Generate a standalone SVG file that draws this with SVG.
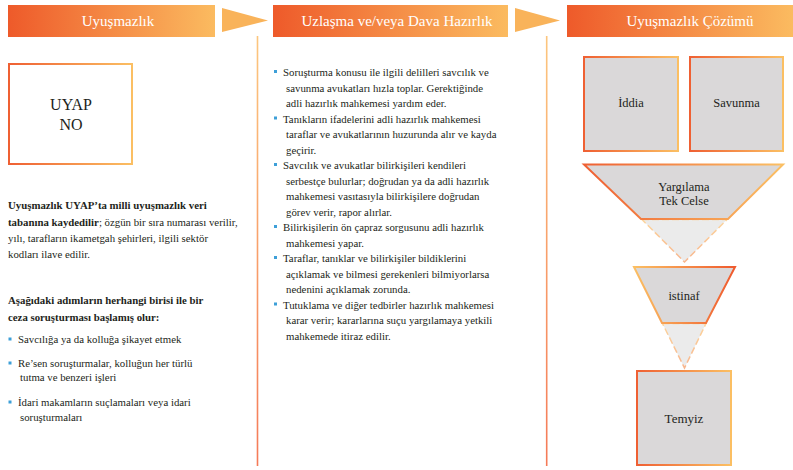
<svg xmlns="http://www.w3.org/2000/svg" width="793" height="470" viewBox="0 0 793 470">
<defs>
<linearGradient id="hdr" x1="0" y1="0" x2="1" y2="0"><stop offset="0" stop-color="#ee5a2a"/><stop offset="1" stop-color="#fbbb60"/></linearGradient>
<linearGradient id="brd" x1="0" y1="0" x2="1" y2="0"><stop offset="0" stop-color="#ef6033"/><stop offset="1" stop-color="#fbbf63"/></linearGradient>
<linearGradient id="brdr" x1="0" y1="0" x2="1" y2="0"><stop offset="0" stop-color="#fbbf63"/><stop offset="1" stop-color="#ef5a2e"/></linearGradient>
<linearGradient id="vl" x1="0" y1="36" x2="0" y2="466" gradientUnits="userSpaceOnUse"><stop offset="0" stop-color="#fcc67e"/><stop offset="1" stop-color="#f57a58"/></linearGradient>
<linearGradient id="conn" x1="0" y1="0" x2="0" y2="1"><stop offset="0" stop-color="#fcd49c"/><stop offset="1" stop-color="#f8b68e"/></linearGradient>
</defs>
<style>
.hd{font-family:"Liberation Serif","Times New Roman",serif;font-size:15px;fill:#ffffff;text-anchor:middle}
.lb{font-family:"Liberation Serif","Times New Roman",serif;fill:#231f20;text-anchor:middle}
.tx{font-family:"Liberation Serif","Times New Roman",serif;font-size:10.8px;fill:#231f20}
.b{font-weight:bold}
.bl{fill:#3d9fd8}
.box{fill:#ffffff;stroke:url(#brd);stroke-width:2}
.gbox{fill:#dad8d9;stroke:url(#brd);stroke-width:2}
.tri{fill:#ebebeb;stroke:url(#conn);stroke-width:1.5;stroke-dasharray:7 3}
.arr{fill:#f9b35a}
</style>

<g id="header1"><rect x="8" y="5" width="207" height="32" fill="url(#hdr)"/><text class="hd" x="118" y="26">Uyuşmazlık</text></g>
<g id="header2"><rect x="273" y="5" width="235" height="32" fill="url(#hdr)"/><text class="hd" x="397" y="26">Uzlaşma ve/veya Dava Hazırlık</text></g>
<g id="header3"><rect x="567" y="5" width="226" height="32" fill="url(#hdr)"/><text class="hd" x="690" y="26">Uyuşmazlık Çözümü</text></g>

<g id="connectors">
<polygon class="arr" points="222,8 268,20.5 222,32"/>
<polygon class="arr" points="515,8 560,20.5 515,32"/>
<line x1="257.5" y1="36" x2="257.5" y2="466" stroke="url(#vl)" stroke-width="1.6"/>
<line x1="546.7" y1="36" x2="546.7" y2="466" stroke="url(#vl)" stroke-width="1.6"/>
<polygon class="tri" points="642,219.5 727,219.5 684.5,262"/>
<polygon class="tri" points="662.5,323.5 706,323.5 684.5,368"/>
</g>

<g id="uyap">
<rect class="box" x="9" y="64" width="123" height="100"/>
<text class="lb" x="71" y="110" font-size="16">UYAP</text>
<text class="lb" x="71" y="130" font-size="16">NO</text>
</g>

<g id="left-text">
<text class="tx" x="8" y="209"><tspan class="b">Uyuşmazlık UYAP’ta milli uyuşmazlık veri</tspan></text>
<text class="tx" x="8" y="225.5"><tspan class="b">tabanına kaydedilir</tspan>; özgün bir sıra numarası verilir,</text>
<text class="tx" x="8" y="242">yılı, tarafların ikametgah şehirleri, ilgili sektör</text>
<text class="tx" x="8" y="258">kodları ilave edilir.</text>
<text class="tx b" x="8" y="304">Aşağıdaki adımların herhangi birisi ile bir</text>
<text class="tx b" x="8" y="320.5">ceza soruşturması başlamış olur:</text>
<rect class="bl" x="8.5" y="337.5" width="3" height="3"/>
<text class="tx" x="18" y="343">Savcılığa ya da kolluğa şikayet etmek</text>
<rect class="bl" x="8.5" y="361.5" width="3" height="3"/>
<text class="tx" x="18" y="367">Re’sen soruşturmalar, kolluğun her türlü</text>
<text class="tx" x="20" y="381">tutma ve benzeri işleri</text>
<rect class="bl" x="8.5" y="400.5" width="3" height="3"/>
<text class="tx" x="18" y="406">İdari makamların suçlamaları veya idari</text>
<text class="tx" x="20" y="421">soruşturmaları</text>
</g>

<g id="middle-text">
<rect class="bl" x="274" y="70" width="3" height="3"/>
<text class="tx" x="283" y="76">Soruşturma konusu ile ilgili delilleri savcılık ve</text>
<text class="tx" x="286" y="91.5">savunma avukatları hızla toplar. Gerektiğinde</text>
<text class="tx" x="286" y="107">adli hazırlık mahkemesi yardım eder.</text>
<rect class="bl" x="274" y="116.5" width="3" height="3"/>
<text class="tx" x="283" y="122.5">Tanıkların ifadelerini adli hazırlık mahkemesi</text>
<text class="tx" x="286" y="138">taraflar ve avukatlarının huzurunda alır ve kayda</text>
<text class="tx" x="286" y="153.5">geçirir.</text>
<rect class="bl" x="274" y="163" width="3" height="3"/>
<text class="tx" x="283" y="169">Savcılık ve avukatlar bilirkişileri kendileri</text>
<text class="tx" x="286" y="184.5">serbestçe bulurlar; doğrudan ya da adli hazırlık</text>
<text class="tx" x="286" y="200">mahkemesi vasıtasıyla bilirkişilere doğrudan</text>
<text class="tx" x="286" y="215.5">görev verir, rapor alırlar.</text>
<rect class="bl" x="274" y="225" width="3" height="3"/>
<text class="tx" x="283" y="231">Bilirkişilerin ön çapraz sorgusunu adli hazırlık</text>
<text class="tx" x="286" y="246.5">mahkemesi yapar.</text>
<rect class="bl" x="274" y="256" width="3" height="3"/>
<text class="tx" x="283" y="262">Taraflar, tanıklar ve bilirkişiler bildiklerini</text>
<text class="tx" x="286" y="277.5">açıklamak ve bilmesi gerekenleri bilmiyorlarsa</text>
<text class="tx" x="286" y="293">nedenini açıklamak zorunda.</text>
<rect class="bl" x="274" y="302.5" width="3" height="3"/>
<text class="tx" x="283" y="308.5">Tutuklama ve diğer tedbirler hazırlık mahkemesi</text>
<text class="tx" x="286" y="324">karar verir; kararlarına suçu yargılamaya yetkili</text>
<text class="tx" x="286" y="339.5">mahkemede itiraz edilir.</text>
</g>

<g id="iddia">
<rect class="gbox" x="584" y="57" width="94" height="94"/>
<text class="lb" x="631" y="107" font-size="12.5">İddia</text>
</g>
<g id="savunma">
<rect class="gbox" x="690" y="57" width="93" height="94"/>
<text class="lb" x="736.5" y="107" font-size="12.5">Savunma</text>
</g>
<g id="yargilama">
<polygon class="gbox" points="584,164.5 783,164.5 728,219 641,219"/>
<text class="lb" x="684" y="191" font-size="12.5">Yargılama</text>
<text class="lb" x="684" y="204.5" font-size="12.5">Tek Celse</text>
</g>
<g id="istinaf">
<polygon points="634,267 735,267 706,323 662,323" fill="#dad8d9" stroke="url(#brdr)" stroke-width="2"/>
<text class="lb" x="684" y="300" font-size="12.5">istinaf</text>
</g>
<g id="temyiz">
<rect class="gbox" x="637" y="371" width="94" height="94"/>
<text class="lb" x="684" y="422.5" font-size="13">Temyiz</text>
</g>
</svg>
